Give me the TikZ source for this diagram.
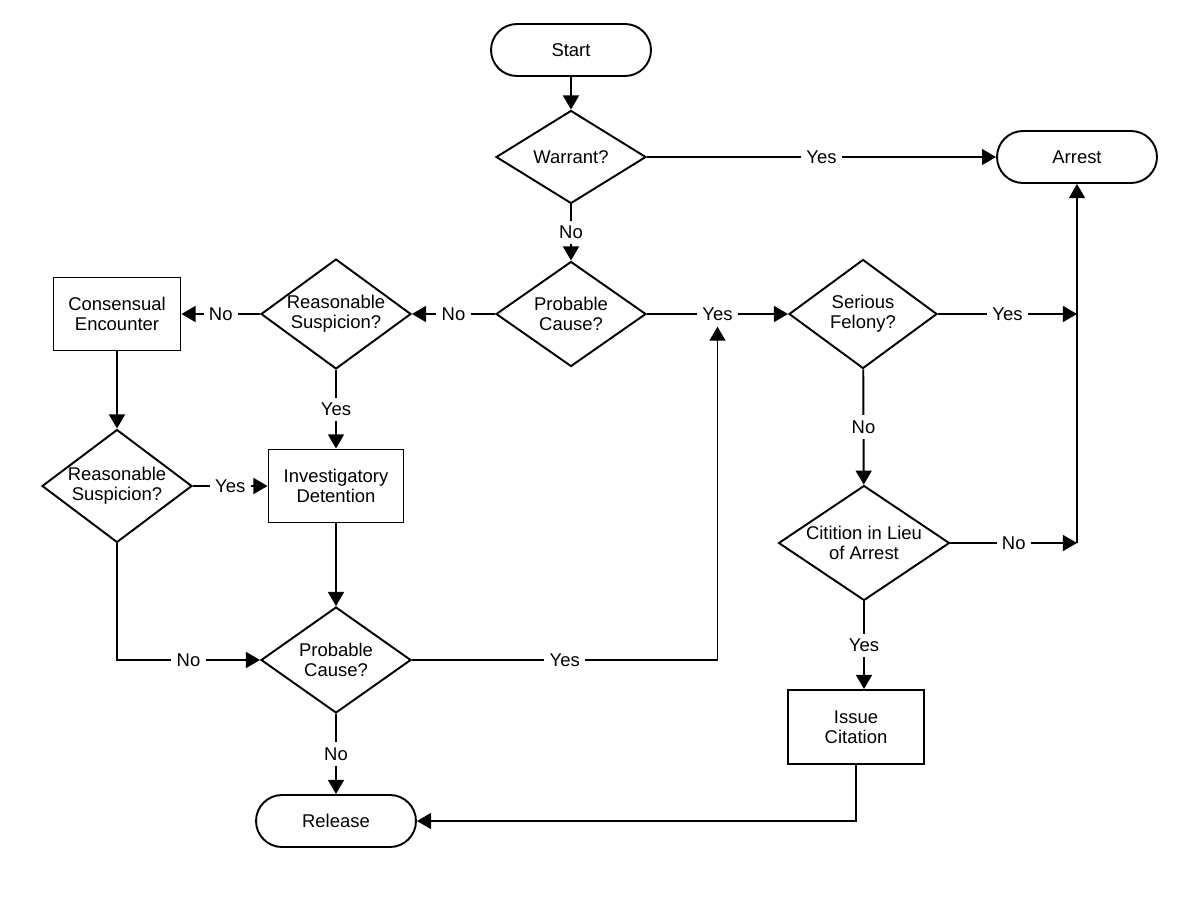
\documentclass[tikz,border=0pt]{standalone}
\usepackage{fontspec}
\setmainfont{Liberation Sans}
\usetikzlibrary{arrows.meta,shapes.geometric,shapes.misc}

\tikzset{
	terminal/.style={draw,line width=1.1pt,rounded rectangle,minimum width=3.2cm,minimum height=1.04cm,inner sep=0pt},
	decision/.style={draw,line width=1.1pt,diamond,aspect=1.5,inner sep=-3pt,minimum width=3cm,minimum height=2.2cm,align=center},
	process/.style={draw,line width=1.1pt,rectangle,minimum width=2.7cm,minimum height=1.46cm,align=center,inner sep=0pt},
	link/.style={line width=1.1pt,-{Triangle[width=9pt,length=8pt]}},
	lbl/.style={fill=white,inner sep=3pt},
}

\begin{document}
\begin{tikzpicture}[x=0.02cm,y=-0.02cm,font=\fontsize{10.5}{11.5}\selectfont]
	\useasboundingbox (0,0) rectangle (1200,900);
	% top of the chart
	\node[terminal] (start) at (571,50) {Start};
	\node[decision,minimum height=1.86cm] (warrant) at (571,157) {Warrant?};
	\node[terminal] (arrest) at (1077,157) {Arrest};
	\node[decision,minimum height=2.1cm] (pctop) at (571,314) {Probable\\Cause?};
	\node[decision] (rstop) at (336,314) {Reasonable\\Suspicion?};
	\node[process,minimum width=2.54cm] (consent) at (117,314) {Consensual\\Encounter};
	% left branch
	\node[decision,minimum height=2.26cm] (rslow) at (117,486) {Reasonable\\Suspicion?};
	\node[process] (detain) at (336,486) {Investigatory\\Detention};
	\node[decision,minimum height=2.12cm] (pclow) at (336,660) {Probable\\Cause?};
	\node[terminal] (release) at (336,821) {Release};
	% right branch
	\node[decision,minimum width=2.96cm,minimum height=2.18cm] (felony) at (863,314) {Serious\\Felony?};
	\node[decision,minimum width=3.42cm,minimum height=2.3cm] (citq) at (864,543) {Citition in Lieu\\of Arrest};
	\node[process,minimum width=2.72cm,minimum height=1.48cm] (issue) at (856,727) {Issue\\Citation};
	\coordinate (join1) at (1077,314);
	\coordinate (join2) at (1077,543);

	\draw[link] (start) -- (warrant);
	\draw[link] (warrant) -- node[lbl] {Yes} (arrest);
	\draw[link] (warrant) -- node[lbl] {No} (pctop);
	\draw[link] (pctop) -- node[lbl] {No} (rstop);
	\draw[link] (pctop) -- node[lbl] (yesmid) {Yes} (felony);
	\draw[link] (rstop) -- node[lbl] {No} (consent);
	\draw[link] (rstop) -- node[lbl] {Yes} (detain);
	\draw[link] (consent) -- (rslow);
	\draw[link] (rslow) -- node[lbl] {Yes} (detain);
	\draw[link] (rslow) |- node[lbl,pos=0.75] {No} (pclow);
	\draw[link] (detain) -- (pclow);
	\draw[link] (pclow) -- node[lbl] {No} (release);
	\draw[link] (pclow) -| node[lbl,pos=0.25] {Yes} (yesmid);
	\draw[link] (felony) -- node[lbl] {Yes} (join1);
	\draw[link] (felony) -- node[lbl] {No} (citq);
	\draw[link] (citq) -- node[lbl] {No} (join2);
	\draw[link] (join2) -- (arrest);
	\draw[link] (citq) -- node[lbl] {Yes} (citq |- issue.north);
	\draw[link] (issue) |- (release);
\end{tikzpicture}
\end{document}
